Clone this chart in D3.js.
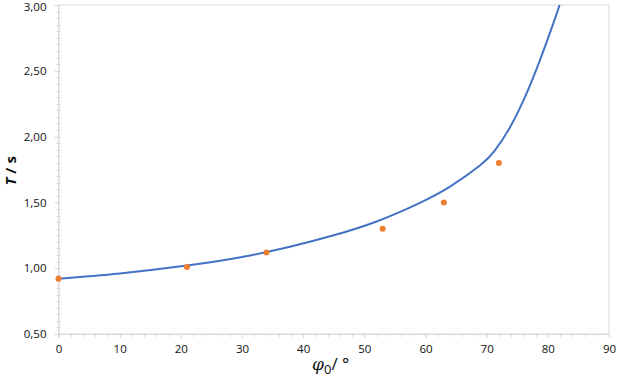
<!DOCTYPE html>
<html>
<head>
<meta charset="utf-8">
<script src="https://cdn.jsdelivr.net/npm/d3@7"></script>
<style>
  body { margin: 0; background: #fff; }
  text { font-family: "Open Sans", "Liberation Sans", sans-serif; }
</style>
</head>
<body>
<div id="chart"></div>
<script>
// measured periods
var measPhi = [0, 21, 34, 53, 63, 72];
var measT = [0.92, 1.01, 1.12, 1.30, 1.50, 1.80];

// fitted curve
var fitPhi = [0, 10, 21, 30, 38, 45, 52, 59, 64, 68.9, 71.35, 73.8, 76.25, 78.7, 81.2, 82.0];
var fitT = [0.92, 0.96, 1.02, 1.085, 1.165, 1.25, 1.355, 1.495, 1.62, 1.78, 1.895, 2.07, 2.30, 2.58, 2.90, 3.015];

var xTicks = [0, 10, 20, 30, 40, 50, 60, 70, 80, 90];
var yTicks = [0.5, 1.0, 1.5, 2.0, 2.5, 3.0];

var W = 617, H = 381;
var m = { left: 58.5, right: 8, top: 5, bottom: 47 };

var svg = d3.select("#chart").append("svg").attr("width", W).attr("height", H);

var x = d3.scaleLinear().domain([0, 90]).range([m.left, W - m.right]);
var y = d3.scaleLinear().domain([0.5, 3]).range([H - m.bottom, m.top]);

var gridCol = "#d9d9d9";
var comma = function (v) { return d3.format(".2f")(v).replace(".", ","); };

// plot area border
svg.append("rect")
  .attr("x", x(0)).attr("y", y(3))
  .attr("width", x(90) - x(0)).attr("height", y(0.5) - y(3))
  .attr("fill", "none").attr("stroke", gridCol).attr("stroke-width", 1);

// minor ticks
var yMinor = d3.range(0.5, 3.0001, 0.05);
svg.append("g").selectAll("line").data(yMinor).join("line")
  .attr("x1", x(0) - 2).attr("x2", x(0) + 2)
  .attr("y1", function (d) { return Math.round(y(d)) + 0.5; })
  .attr("y2", function (d) { return Math.round(y(d)) + 0.5; })
  .attr("stroke", gridCol);
var xMinor = d3.range(0, 90.001, 2);
svg.append("g").selectAll("line").data(xMinor).join("line")
  .attr("x1", function (d) { return Math.round(x(d)) + 0.5; })
  .attr("x2", function (d) { return Math.round(x(d)) + 0.5; })
  .attr("y1", y(0.5)).attr("y2", y(0.5) + 3)
  .attr("stroke", gridCol);

// axes
var yAxis = svg.append("g")
  .attr("transform", "translate(" + x(0) + ",0)")
  .call(d3.axisLeft(y).tickValues(yTicks).tickFormat(comma).tickSize(4).tickPadding(8));
var xAxis = svg.append("g")
  .attr("transform", "translate(0," + y(0.5) + ")")
  .call(d3.axisBottom(x).tickValues(xTicks).tickSize(4).tickPadding(7));
[xAxis, yAxis].forEach(function (g) {
  g.selectAll("path, line").attr("stroke", gridCol);
  g.selectAll("text").attr("fill", "#111").style("font-size", "11.5px");
});
yAxis.selectAll("text").filter(function (d) { return d === 3; }).attr("dy", "0.45em");

// fit curve
svg.append("clipPath").attr("id", "pa").append("rect")
  .attr("x", x(0) - 5).attr("y", y(3)).attr("width", x(90) - x(0) + 10).attr("height", y(0.5) - y(3) + 5);

var line = d3.line()
  .x(function (d, i) { return x(fitPhi[i]); })
  .y(function (d, i) { return y(fitT[i]); })
  .curve(d3.curveNatural);
svg.append("path")
  .datum(fitPhi)
  .attr("d", line)
  .attr("clip-path", "url(#pa)")
  .attr("fill", "none")
  .attr("stroke", "#4472c4")
  .attr("stroke-width", 2);

// measured points
svg.append("g").selectAll("circle").data(measPhi).join("circle")
  .attr("cx", function (d) { return x(d); })
  .attr("cy", function (d, i) { return y(measT[i]); })
  .attr("r", 3)
  .attr("fill", "#ed7d31");

// axis titles
var yt = svg.append("text")
  .attr("transform", "translate(16," + y(1.74) + ") rotate(-90)")
  .attr("text-anchor", "middle")
  .style("font-size", "15px").style("font-weight", "bold").attr("fill", "#111");
yt.append("tspan").style("font-style", "italic").text("T");
yt.append("tspan").text(" / s");

var xt = svg.append("text")
  .attr("x", x(44.5)).attr("y", 370)
  .attr("text-anchor", "middle")
  .style("font-size", "17px").attr("fill", "#111");
xt.append("tspan").style("font-style", "italic").style("font-family", "DejaVu Serif").text("φ");
xt.append("tspan").attr("dy", 4).style("font-size", "13px").text("0");
xt.append("tspan").attr("dy", -4).text("/ °");
</script>
</body>
</html>
